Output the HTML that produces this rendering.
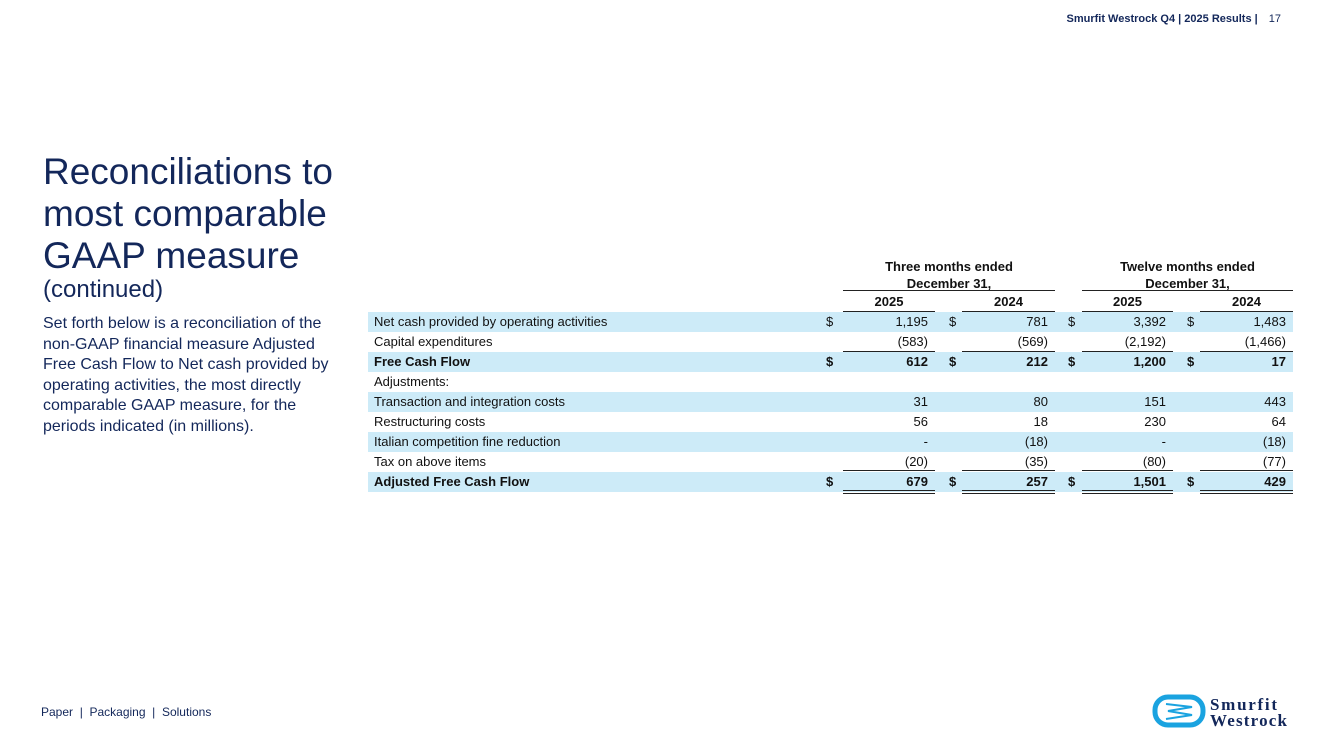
<!DOCTYPE html>
<html><head><meta charset="utf-8"><style>
body{margin:0;width:1333px;height:749px;background:#fff;position:relative;overflow:hidden;font-family:"Liberation Sans",sans-serif;}
.a{position:absolute;white-space:nowrap;}
.navy{color:#13275a;}
.band{position:absolute;left:368px;width:925px;height:20px;background:#cdebf8;}
.t{position:absolute;font-size:13px;color:#111;line-height:20px;white-space:nowrap;}
.r{text-align:right;}
.ln{position:absolute;height:1px;background:#222;}
.b{font-weight:bold;}
</style></head><body>
<div class="a navy" style="right:52px;top:13px;font-size:11px;font-weight:bold;">Smurfit Westrock Q4 | 2025 Results | <span style="font-weight:normal;margin-left:8px">17</span></div>
<div class="a navy" style="left:43px;top:151px;font-size:37px;line-height:42px;white-space:normal;width:320px;">Reconciliations to<br>most comparable<br>GAAP measure</div>
<div class="a navy" style="left:43px;top:276px;font-size:24px;">(continued)</div>
<div class="a navy" style="left:43px;top:314px;font-size:16px;line-height:20.5px;">Set forth below is a reconciliation of the<br>non-GAAP financial measure Adjusted<br>Free Cash Flow to Net cash provided by<br>operating activities, the most directly<br>comparable GAAP measure, for the<br>periods indicated (in millions).</div>
<div class="a navy" style="left:41px;top:705px;font-size:12px;">Paper &nbsp;|&nbsp; Packaging &nbsp;|&nbsp; Solutions</div>
<svg style="position:absolute;left:1152px;top:694px" width="150" height="36">
<rect x="3" y="3" width="48" height="28" rx="13" fill="none" stroke="#1aa3e0" stroke-width="5"/>
<path d="M14 10 L40 13 L16 17 L40 21 L14 25" fill="none" stroke="#1aa3e0" stroke-width="2"/>
<text x="58" y="16" font-family="Liberation Serif" font-weight="bold" font-size="17" fill="#13275a" textLength="67">Smurfit</text>
<text x="58" y="32" font-family="Liberation Serif" font-weight="bold" font-size="17" fill="#13275a" textLength="77">Westrock</text>
</svg>
<div id="tbl"></div>
<script>
const labels=["Net cash provided by operating activities","Capital expenditures","Free Cash Flow","Adjustments:","Transaction and integration costs","Restructuring costs","Italian competition fine reduction","Tax on above items","Adjusted Free Cash Flow"];
const q2025=["1,195","(583)","612","","31","56","-","(20)","679"];
const q2024=["781","(569)","212","","80","18","(18)","(35)","257"];
const y2025=["3,392","(2,192)","1,200","","151","230","-","(80)","1,501"];
const y2024=["1,483","(1,466)","17","","443","64","(18)","(77)","429"];
const dollarRows=[0,2,8];
const boldRows=[2,8];
const T=document.getElementById('tbl');
function add(html){T.insertAdjacentHTML('beforeend',html);}
const top0=312,rh=20;
const cols=[{v:q2025,l:843,r:935,d:826},{v:q2024,l:962,r:1055,d:949},{v:y2025,l:1082,r:1173,d:1068},{v:y2024,l:1200,r:1293,d:1187}];
labels.forEach((lab,i)=>{
 const y=top0+i*rh;
 if(i%2===0) add(`<div class="band" style="top:${y}px"></div>`);
 const b=boldRows.includes(i)?' b':'';
 add(`<div class="t${b}" style="left:374px;top:${y}px">${lab}</div>`);
 cols.forEach(c=>{
  if(dollarRows.includes(i)) add(`<div class="t${b}" style="left:${c.d}px;top:${y}px">$</div>`);
  add(`<div class="t r${b}" style="left:${c.l}px;width:${c.r-c.l-7}px;top:${y}px">${c.v[i]}</div>`);
 });
});
cols.forEach(c=>{
 [312,352,471,491,494].forEach(y=>add(`<div class="ln" style="left:${c.l}px;width:${c.r-c.l}px;top:${y-1}px"></div>`));
});
add(`<div class="ln" style="left:843px;width:212px;top:290px"></div>`);
add(`<div class="ln" style="left:1082px;width:211px;top:290px"></div>`);
add(`<div class="t b" style="left:843px;width:212px;text-align:center;top:258px;line-height:17px">Three months ended<br>December 31,</div>`);
add(`<div class="t b" style="left:1082px;width:211px;text-align:center;top:258px;line-height:17px">Twelve months ended<br>December 31,</div>`);
const years=["2025","2024","2025","2024"];
cols.forEach((c,k)=>add(`<div class="t b" style="left:${c.l}px;width:${c.r-c.l}px;text-align:center;top:292px">${years[k]}</div>`));
</script>
</body></html>
